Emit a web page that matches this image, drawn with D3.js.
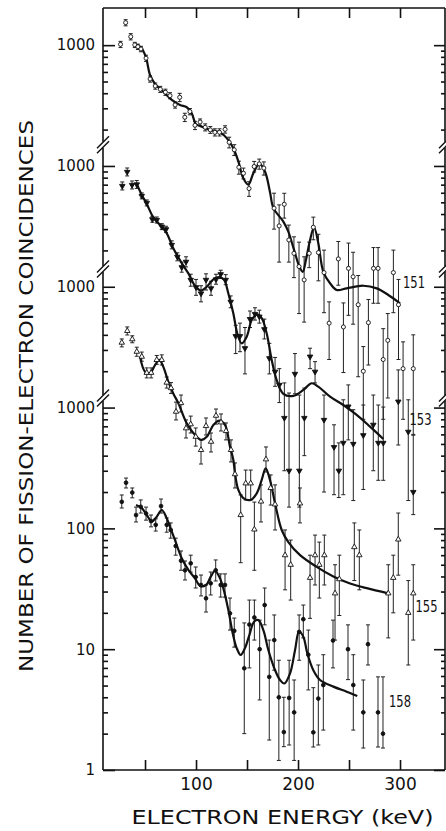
<!DOCTYPE html>
<html>
<head>
<meta charset="utf-8">
<script src="https://cdn.jsdelivr.net/npm/d3@7"></script>
<style>
  body { margin: 0; background: #fff; }
  svg { display: block; }
  text { font-family: "DejaVu Sans", sans-serif; fill: #111; }
</style>
</head>
<body>
<script>
'use strict';

// ---- data ----
const energyTicks = [50, 100, 150, 200, 250, 300];
const energyLabels = [100, 200, 300];
const decadeTicks = [1, 10, 100, 1e3, 1e4, 1e5, 1e6];
const decadeLabels = ["1", "10", "100", "1000", "1000", "1000", "1000"];
const breakValues = [1.5e5, 1.4e4, 1.2e3]; // where the axis is broken
const seriesNames = ["151", "153", "155", "158"];
const seriesShift = [1000, 100, 10, 1]; // each spectrum is moved up one decade

// points: [energy keV, counts, lower, upper]
const points151 = [
  [26, 1015, 955, 1075], [31, 1535, 1445, 1625], [36, 1175, 1105, 1245], [40, 1005, 955, 1055],
  [43, 970, 920, 1020], [46, 930, 882, 978], [51, 780, 734, 826], [55, 525, 494, 556],
  [60, 459, 432, 486], [65, 431, 406, 456], [70, 408, 384, 432], [74.5, 382, 360, 404],
  [79.5, 320, 301, 339], [84, 370, 341, 399], [89, 253, 233, 273], [94, 282, 265, 299],
  [99, 217, 200, 234], [104, 231, 217, 245], [109, 209, 195, 223], [114, 199, 186, 212],
  [118.5, 190, 177, 203], [123, 190, 177, 203], [128.5, 201, 187, 215], [132.5, 157, 141, 173],
  [137.5, 136, 122, 150], [142, 97.5, 85.5, 109.5], [146.5, 87, 78, 96], [152, 65, 56, 74],
  [157, 99, 89, 109], [162, 104, 94, 114], [166.5, 96, 84, 108], [176.5, 44.7, 30, 59.5],
  [181.5, 31.9, 16, 47.6], [186.5, 48.2, 37, 59.4], [191, 24.4, 16, 32.4], [196, 18.9, 11.9, 25.9],
  [201, 14.7, 6, 23.4], [206, 11.4, 5.1, 17.7], [211, 18.9, 14.4, 23.4], [215, 31.1, 24.5, 37.7],
  [220, 19.2, 11.2, 27.2], [225.5, 13.1, 6.1, 20.1], [230.5, 5.0, 2.5, 7.5], [239.5, 17, 10.3, 23.7],
  [244.5, 4.65, 1.95, 7.35], [249.5, 14.2, 5.8, 23], [254, 12.1, 4.9, 19.3], [259, 7.1, 1.8, 12.4],
  [264, 2.0, 0.8, 3.2], [269, 5.05, 2.25, 7.85], [274, 14.2, 7.3, 21.1], [278.5, 14.2, 7.3, 21.1],
  [283.5, 2.5, 0.8, 4.5], [288, 3.6, 1.2, 6.0], [293.5, 13.1, 6.1, 20.1], [298.5, 7.1, 2.5, 11.5],
  [303, 2.1, 0.8, 3.5], [313, 2.1, 0.6, 4.0]
];
const points153 = [
  [27.7, 683, 633, 737], [32.5, 892, 827, 962], [37.3, 696, 645, 751], [41.9, 703, 652, 758],
  [46.8, 565, 534, 598], [51.7, 494, 467, 523], [57.2, 362, 342, 383], [61.5, 357, 337, 378],
  [66.4, 315, 297, 333], [70.6, 299, 282, 317], [76.2, 222, 206, 240], [81.7, 177, 164, 191],
  [86, 145, 132, 160], [90.2, 161, 146, 177], [94.8, 114, 101, 127], [100, 99, 85, 115],
  [104.9, 88, 75, 102], [109.8, 114, 94, 128], [114.7, 97, 85, 111], [119.6, 115, 105, 127],
  [124.2, 127, 117, 137], [129.1, 114, 104, 126], [134, 75, 67, 84], [138.9, 39, 28, 48],
  [143.1, 39, 29, 50], [148, 31, 19, 46], [152.9, 54, 46, 63], [157.8, 59.5, 53, 67],
  [162.1, 56.6, 50, 64], [167, 44.5, 37, 54], [171.9, 25.6, 19, 34], [177.5, 19.8, 15, 26],
  [181.7, 15.4, 11, 21], [186.6, 8.2, 3.0, 16], [191.2, 3.0, 1.5, 13.2], [197, 19, 13, 28],
  [201.3, 3.0, 1.5, 12.7], [206.2, 8.2, 4, 14.5], [211.8, 26.4, 21, 31], [216.7, 19.8, 16, 24],
  [225.5, 7.9, 2, 12.7], [235.3, 4.7, 1.9, 7.2], [240, 3.0, 1.8, 5.1], [244.4, 5.1, 1.9, 11.6],
  [249.3, 10.2, 5.4, 15.4], [254.2, 5.0, 1.7, 9.6], [264, 5.9, 2.1, 10.5], [273.8, 7.2, 3.0, 12.7],
  [278.7, 5.1, 2.5, 10.5], [283.6, 5.1, 2.5, 10.1], [298.3, 11.2, 4.9, 20.5], [308.1, 6.3, 1.7, 11.6],
  [313, 2.0, 1.3, 5.9]
];
const points155 = [
  [27.2, 345, 318, 370], [32.6, 431, 399, 465], [37.5, 368, 344, 393], [41.9, 290, 266, 316],
  [46.8, 264, 242, 288], [51.7, 194, 176, 213], [56, 194, 176, 213], [61.5, 248, 228, 270],
  [66.4, 248, 225, 273], [71.3, 161, 145, 179], [75.5, 145, 131, 161], [80.4, 92.5, 79, 111],
  [85.3, 109, 92, 127], [90.2, 67.4, 56, 79], [94.8, 72.8, 61.6, 85], [99.7, 57.4, 48, 67.8],
  [104.9, 44.6, 34.1, 54], [109.8, 70.4, 59.3, 82], [114.7, 52.2, 42.9, 61.6], [119.6, 85.7, 73, 97.3],
  [124.5, 75.5, 64, 88.5], [129.4, 64, 54, 74.6], [134.3, 44.6, 35.5, 54], [138.2, 28.1, 21.6, 34.8],
  [143.8, 12.9, 5.2, 18.9], [148.7, 23.6, 17.2, 30.4], [153.6, 23.6, 17.2, 30.4], [157.2, 9.8, 4.5, 16.5],
  [163.7, 16.7, 11.3, 22.9], [168.6, 37.3, 29.3, 47.2], [173.2, 21.6, 15.6, 27.7], [177.5, 15.8, 9.7, 22.9],
  [187.3, 6.0, 3.1, 9.7], [192.8, 5.0, 2.55, 8.0], [201.9, 16.1, 11.1, 21.6], [211.8, 3.9, 1.8, 6.0],
  [216.7, 6.0, 3.4, 8.8], [220.9, 5.0, 2.65, 7.7], [225.8, 6.0, 3.4, 8.8], [236.3, 2.9, 1.19, 5.0],
  [240.5, 3.8, 1.9, 6.0], [255.2, 7.0, 3.7, 11.1], [260.1, 6.0, 3.1, 9.7], [288.5, 2.9, 1.24, 5.0],
  [293.4, 3.9, 2.0, 6.0], [298.3, 8.1, 4.1, 13.4], [308.1, 2.0, 0.74, 3.7], [313, 2.9, 1.19, 5.0]
];
const points158 = [
  [27.2, 166, 147.5, 189], [31.4, 239, 216, 261], [37.5, 198, 179, 216], [41.2, 129, 113, 150],
  [45.8, 151, 134, 172], [51, 133, 117, 150], [55.9, 115, 103, 129], [60.5, 107, 95, 120],
  [65.7, 153, 134, 175], [71.3, 107, 93, 122], [75.2, 97, 83, 111], [80.1, 71.5, 60, 83],
  [85.3, 54, 45, 65], [89.2, 45, 37.4, 53.7], [94.8, 51.4, 43.5, 60], [99.7, 39.6, 32.1, 47.9],
  [104.9, 34, 27.6, 41.1], [109.8, 26.4, 20.3, 34], [114.4, 35.1, 28.1, 43.5], [119.3, 45, 36.7, 54.8],
  [124.2, 34, 27, 42], [128.4, 34, 27, 42], [133.3, 19.8, 14.4, 26.5], [137.5, 14.2, 10.4, 18.1],
  [147.3, 6.95, 2.0, 16.5], [152.3, 16, 7.0, 25.5], [157.2, 18.3, 11.9, 25.5], [162.4, 10, 3.8, 17.4],
  [167.3, 23.2, 15.9, 32.1], [171.8, 5.9, 1.77, 11.9], [176.7, 11.9, 6.7, 19.2], [181.2, 4.0, 1.2, 8.1],
  [186.1, 2.06, 1.56, 4.0], [191.3, 3.95, 1.61, 8.1], [196.2, 3.0, 1.2, 5.56], [201.1, 13.9, 8.1, 19.2],
  [205.2, 17.7, 12.4, 23.2], [210.1, 9.0, 4.6, 14.4], [215, 2.05, 1.55, 4.8], [219.9, 3.9, 1.61, 7.4],
  [224.8, 5.05, 2.14, 9.0], [234.3, 11.8, 7.0, 17.4], [249, 10, 5.6, 15.9], [254.2, 5.05, 2.14, 9.0],
  [264, 3.0, 1.52, 5.56], [268.6, 11.0, 7.4, 15.9], [278.4, 3.0, 1.55, 5.9], [283.3, 2.0, 1.52, 5.9]
];

// fitted curves: [energy keV, counts]
const curve151 = [
  [40.2, 1017], [45.8, 961], [50.7, 803], [54.9, 567], [59.8, 477], [67.9, 412], [76.2, 352],
  [84.3, 320], [90.9, 306], [95.8, 273], [99.7, 223], [103.9, 214], [113.7, 199], [123.5, 189],
  [130.1, 170], [136.6, 140], [141.5, 109], [146.4, 79], [151.3, 70], [156.2, 87], [162.1, 104],
  [167.6, 90], [172.5, 61], [175.8, 45], [185.6, 34.6], [190.5, 28.6], [196.1, 20.2], [201.3, 14.7],
  [204.6, 13.3], [207.8, 16.7], [211.8, 24.4], [215.7, 31.1], [219.9, 22.9], [224.8, 13.3],
  [231.4, 10.7], [237.9, 9.4], [247.7, 9.7], [264, 10.2], [277.2, 9.7], [288.5, 8.55], [300, 7.3]
];
const curve153 = [
  [41.9, 710], [46.8, 575], [51.7, 485], [58.1, 376], [64.7, 325], [71.3, 277], [77.7, 208],
  [86, 157], [92.5, 129], [99, 102], [104.9, 93], [110.5, 100], [117, 115], [122.8, 120],
  [127.5, 114], [131.7, 88], [136.6, 60], [140.5, 41], [144.8, 34], [149.7, 38.6], [154.6, 53],
  [159.5, 59], [164.4, 55], [169.3, 41], [174.2, 24.8], [179.1, 16.9], [185.6, 13], [195.4, 12.5],
  [205.2, 14], [213.4, 15.9], [219.9, 14.9], [231.4, 12.3], [244.4, 10.5], [257.5, 8.7],
  [270.6, 6.95], [283.6, 5.5]
];
const curve155 = [
  [45.1, 264], [50, 198], [54.9, 192], [59.8, 225], [64, 248], [67.9, 218], [72.8, 164],
  [77.7, 131], [82.6, 109], [90.9, 74], [99, 59.3], [104.9, 54], [110.5, 57.4], [117, 71.8],
  [122.8, 78], [128.4, 71.8], [133.3, 47.5], [136.6, 36.8], [138.2, 28.6], [141.5, 20.8],
  [146.4, 17.8], [153.6, 17.2], [159.5, 19.5], [164.4, 25.2], [168.3, 31.4], [172.5, 25.2],
  [177.5, 16.1], [184, 9.7], [190.5, 7.7], [202, 6.0], [218.3, 4.8], [234.6, 4.0], [251, 3.5],
  [267.4, 3.2], [288.5, 2.9]
];
const curve158 = [
  [41.2, 156], [46.8, 147], [51.7, 129], [56.6, 114], [61.5, 125], [66.4, 142], [70.6, 125],
  [74.5, 103], [79.4, 80], [86, 56.5], [92.5, 45.3], [99, 38.6], [103.9, 33.4], [109.8, 34],
  [114.4, 39.8], [118.6, 44.4], [122.8, 39.8], [126.8, 31.9], [131.7, 21.1], [136, 13.5],
  [139.9, 10.2], [143.8, 8.95], [148, 10.2], [152.3, 13.1], [156.9, 16.9], [161.1, 17.4],
  [166, 14.4], [170.9, 9.85], [177.5, 6.7], [182.4, 5.56], [186.6, 5.2], [192.2, 6.3],
  [197.1, 9.85], [201, 14], [205.2, 12.7], [209.1, 9.25], [215, 6.7], [221.6, 5.56],
  [234.6, 4.9], [247.7, 4.45], [258.1, 4.1]
];

const allPoints = [points151, points153, points155, points158];
const allCurves = [curve151, curve153, curve155, curve158];

(function() {
  // ---- layout ----
  const W = 446, H = 831;
  const pL = 103, pR = 445, pT = 8, pB = 770;
  const labelPos = [[414, 288], [420.5, 425], [426.5, 612], [400, 707]];
  const markerStyle = [
    { type: d3.symbolCircle, size: 13, fill: "#fff", rot: 0 },
    { type: d3.symbolTriangle, size: 13, fill: "#111", rot: 180 },
    { type: d3.symbolTriangle, size: 13, fill: "#fff", rot: 0 },
    { type: d3.symbolCircle, size: 11, fill: "#111", rot: 0 }
  ];

  const svg = d3.select("body").append("svg")
    .attr("width", W).attr("height", H);

  svg.append("rect").attr("width", W).attr("height", H).attr("fill", "#fff");

  const x = d3.scaleLinear().domain([8.8, 344.1]).range([pL, pR]);
  const y = d3.scaleLog().domain([1, 2.03e6]).range([pB, pT]);

  svg.append("clipPath").attr("id", "plot")
    .append("rect")
    .attr("x", pL).attr("y", pT)
    .attr("width", pR - pL).attr("height", pB - pT);

  // minor log ticks 2..9 in every decade
  let minorTicks = [];
  decadeTicks.forEach((d) => {
    for (let m = 2; m <= 9; m++) {
      if (d * m < 2.0e6) minorTicks.push(d * m);
    }
  });

  function styleAxis(g) {
    g.select(".domain").remove();
    g.selectAll(".tick line").attr("stroke", "#111").attr("stroke-width", 1.6);
  }

  // left axis
  svg.append("g")
    .attr("transform", "translate(" + pL + ",0)")
    .call(d3.axisLeft(y).tickValues(decadeTicks).tickSize(-12).tickPadding(8)
      .tickFormat((d, i) => decadeLabels[i]))
    .call(styleAxis)
    .selectAll("text").style("font-size", "15px").attr("fill", "#111");

  svg.append("g")
    .attr("transform", "translate(" + pL + ",0)")
    .call(d3.axisLeft(y).tickValues(minorTicks).tickSize(-5).tickFormat(""))
    .call(styleAxis);

  // right axis
  svg.append("g")
    .attr("transform", "translate(" + pR + ",0)")
    .call(d3.axisRight(y).tickValues(decadeTicks).tickSize(-11).tickFormat(""))
    .call(styleAxis);

  svg.append("g")
    .attr("transform", "translate(" + pR + ",0)")
    .call(d3.axisRight(y).tickValues(minorTicks).tickSize(-4).tickFormat(""))
    .call(styleAxis);

  // top and bottom axes
  svg.append("g")
    .attr("transform", "translate(0," + pT + ")")
    .call(d3.axisTop(x).tickValues(energyTicks).tickSize(-10).tickFormat(""))
    .call(styleAxis);

  svg.append("g")
    .attr("transform", "translate(0," + pB + ")")
    .call(d3.axisBottom(x).tickValues(energyTicks).tickSize(-10).tickPadding(8)
      .tickFormat((d) => energyLabels.includes(d) ? d : ""))
    .call(styleAxis)
    .selectAll("text").style("font-size", "17px").attr("fill", "#111");

  // frame, broken on the sides
  const frame = svg.append("g").attr("stroke", "#111").attr("stroke-width", 1.6).attr("fill", "none");
  frame.append("line").attr("x1", pL).attr("x2", pR).attr("y1", pT).attr("y2", pT);
  frame.append("line").attr("x1", pL).attr("x2", pR).attr("y1", pB).attr("y2", pB);

  let cuts = [pT].concat(breakValues.map((b) => y(b)).sort((a, b) => a - b)).concat([pB]);
  [pL, pR].forEach((sx) => {
    for (let i = 0; i < cuts.length - 1; i++) {
      let y1 = i === 0 ? cuts[i] : cuts[i] + 3;
      let y2 = i === cuts.length - 2 ? cuts[i + 1] : cuts[i + 1] - 3;
      frame.append("line").attr("x1", sx).attr("x2", sx).attr("y1", y1).attr("y2", y2);
    }
    breakValues.forEach((b) => {
      let yb = y(b);
      [-2.5, 2.5].forEach((o) => {
        frame.append("line")
          .attr("x1", sx - 6).attr("y1", yb + o + 6)
          .attr("x2", sx + 6).attr("y2", yb + o - 6)
          .attr("stroke-width", 1.4);
      });
    });
  });

  // spectra
  const plot = svg.append("g").attr("clip-path", "url(#plot)");

  allPoints.forEach((pts, s) => {
    let k = seriesShift[s];
    let g = plot.append("g").attr("class", "series-" + seriesNames[s]);

    // error bars
    let bars = g.selectAll(".bar").data(pts).enter().append("g").attr("class", "bar")
      .attr("stroke", "#222").attr("stroke-width", 1);
    bars.append("line")
      .attr("x1", (d) => x(d[0])).attr("x2", (d) => x(d[0]))
      .attr("y1", (d) => y(d[2] * k)).attr("y2", (d) => y(d[3] * k));
    bars.append("line")
      .attr("x1", (d) => x(d[0]) - 2).attr("x2", (d) => x(d[0]) + 2)
      .attr("y1", (d) => y(d[3] * k)).attr("y2", (d) => y(d[3] * k));
    bars.append("line")
      .attr("x1", (d) => x(d[0]) - 2).attr("x2", (d) => x(d[0]) + 2)
      .attr("y1", (d) => y(d[2] * k)).attr("y2", (d) => y(d[2] * k));

    // fitted curve
    let line = d3.line()
      .x((d) => x(d[0]))
      .y((d) => y(d[1] * k))
      .curve(d3.curveCatmullRom.alpha(0.5));

    g.append("path")
      .datum(allCurves[s])
      .attr("fill", "none")
      .attr("stroke", "#111")
      .attr("stroke-width", 2.2)
      .attr("d", line);

    // markers
    let m = markerStyle[s];
    g.selectAll(".pt").data(pts).enter().append("path")
      .attr("class", "pt")
      .attr("d", d3.symbol().type(m.type).size(m.size))
      .attr("transform", (d) => "translate(" + x(d[0]) + "," + y(d[1] * k) + ") rotate(" + m.rot + ")")
      .attr("fill", m.fill)
      .attr("stroke", "#111")
      .attr("stroke-width", 0.9);

    svg.append("text")
      .attr("x", labelPos[s][0]).attr("y", labelPos[s][1])
      .attr("text-anchor", "middle")
      .attr("textLength", 22).attr("lengthAdjust", "spacingAndGlyphs")
      .style("font-size", "15px")
      .text(seriesNames[s]);
  });

  // axis titles
  svg.append("text")
    .attr("x", 282.5).attr("y", 824)
    .attr("text-anchor", "middle")
    .attr("textLength", 302).attr("lengthAdjust", "spacingAndGlyphs")
    .style("font-size", "20px")
    .text("ELECTRON ENERGY (keV)");

  svg.append("text")
    .attr("transform", "translate(33,396) rotate(-90)")
    .attr("text-anchor", "middle")
    .attr("textLength", 552).attr("lengthAdjust", "spacingAndGlyphs")
    .style("font-size", "20px")
    .text("NUMBER OF FISSION-ELECTRON COINCIDENCES");
})();
</script>
</body>
</html>
